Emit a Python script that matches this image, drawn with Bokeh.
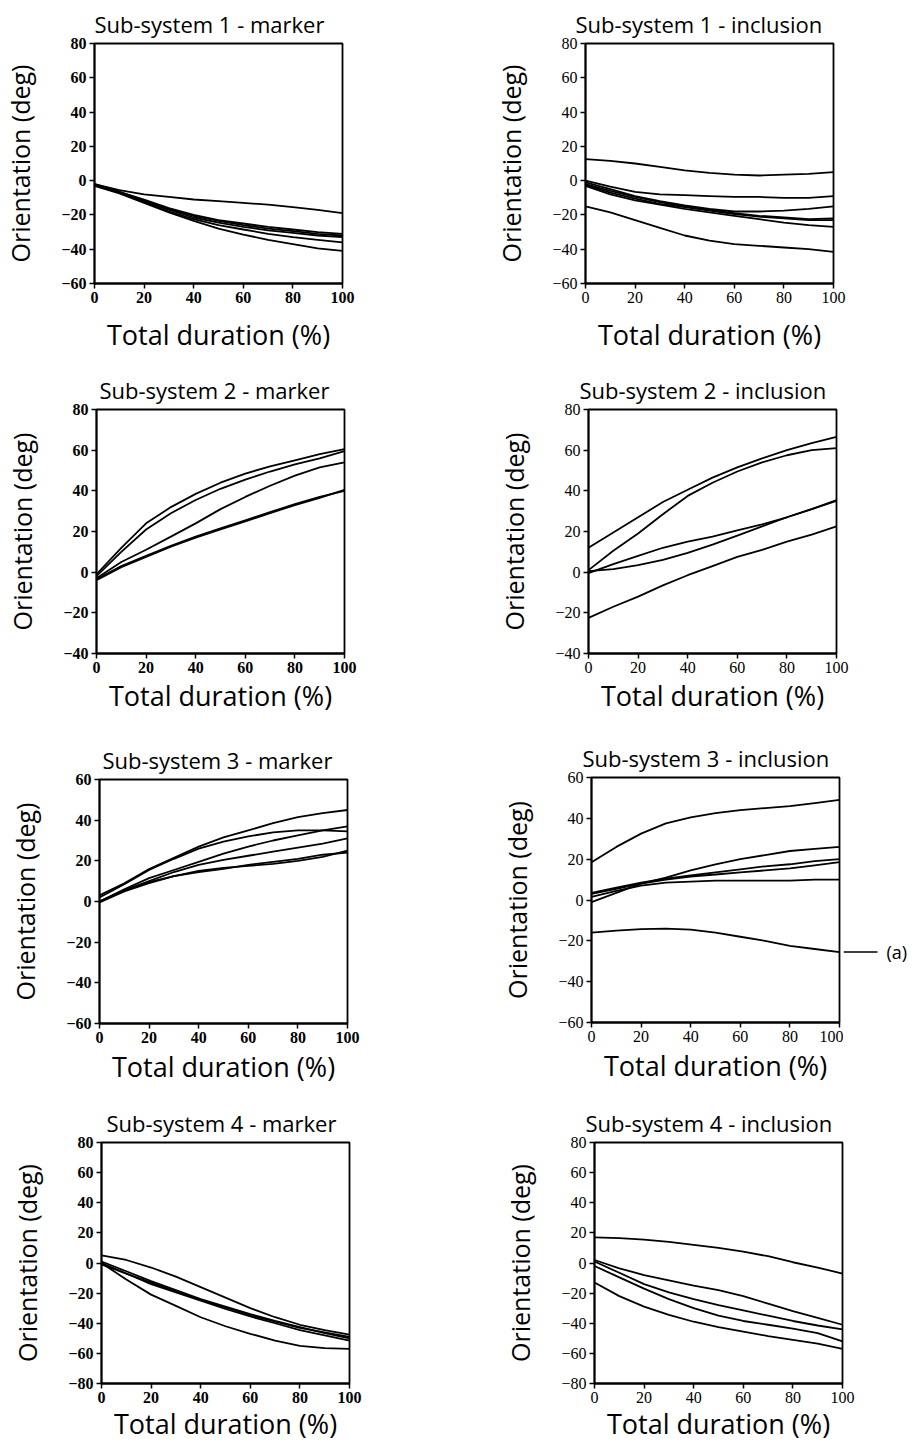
from bokeh.plotting import figure
from bokeh.models import Range1d, FixedTicker, Title
from bokeh.core.properties import value
from bokeh.layouts import column, row
from bokeh.embed import file_html
from bokeh.resources import INLINE

# ---------------- data ----------------
duration_pct = [0, 10, 20, 30, 40, 50, 60, 70, 80, 90, 100]
x_ticks = [0, 20, 40, 60, 80, 100]

ss1_marker = [
    [-2, -5.5, -8, -9.5, -11, -12, -13, -14, -15.5, -17, -19],
    [-2, -6.5, -11, -16, -20, -23, -25, -27, -28.5, -30, -31],
    [-2, -6.5, -11.5, -16.5, -20.5, -23.5, -26, -28, -29.5, -31, -32],
    [-2.5, -7, -12, -17, -21.5, -24.5, -27, -29, -30.5, -32, -33],
    [-2.5, -7, -12.5, -18, -22.5, -26, -28.5, -31, -33, -34.5, -36],
    [-3, -7.5, -13, -18.5, -23.5, -28, -31.5, -34.5, -37, -39.5, -41],
]
ss1_inclusion = [
    [12.5, 11.5, 10, 8, 6, 4.5, 3.5, 3, 3.5, 4, 5],
    [0, -3.5, -6.5, -8, -8.5, -9, -9.5, -9.5, -10, -10, -9],
    [-1, -5, -9, -12, -14.5, -16.5, -18, -18, -17.5, -16.5, -15],
    [-2, -6, -9.5, -12.5, -15, -17, -19, -20.5, -21.5, -22.5, -22],
    [-2.5, -7, -10.5, -13.5, -15.5, -17.5, -19.5, -21, -22, -23, -23],
    [-3, -8, -11.5, -14, -16.5, -18.5, -20.5, -22.5, -24.5, -26, -27],
    [-15, -18.5, -23, -27.5, -32, -35, -37, -38, -39, -40, -41.5],
]
ss2_marker = [
    [-1, 12, 24, 32, 38.5, 44, 48.5, 52, 55, 58, 60.5],
    [-2, 10, 21, 29, 35.5, 41, 45.5, 49.5, 53, 56, 59.5],
    [-3, 5, 11, 17.5, 24, 31, 37, 42.5, 47.5, 51.5, 54],
    [-3.5, 3, 8, 13, 17.5, 21.5, 25.5, 29.5, 33.5, 37, 40],
    [-4, 2.5, 7.5, 12.5, 17, 21, 25, 29, 33, 36.5, 40.5],
]
ss2_inclusion = [
    [12, 19.5, 27, 34.5, 40.5, 46.5, 51.5, 56, 60, 63.5, 66.5],
    [1, 10.5, 19, 28.5, 37.5, 44, 49.5, 54, 57.5, 60, 61],
    [-0.5, 4, 8, 12, 15, 17.5, 20.5, 23.5, 27, 31, 35.5],
    [0.5, 1.5, 3.5, 6, 9.5, 13.5, 18, 22.5, 27, 31, 35],
    [-22.5, -17, -12, -6.5, -1.5, 3, 7.5, 11, 15, 18.5, 22.5],
]
ss3_marker = [
    [3, 9, 16, 21.5, 27, 31.5, 35, 38.5, 41.5, 43.5, 45],
    [2, 8.5, 15.5, 21, 26, 29.5, 32, 34, 35, 35, 34.5],
    [0, 6, 11.5, 15.5, 19.5, 23.5, 27, 30, 32.5, 35, 37],
    [0, 5.5, 10, 14.5, 18, 20.5, 22.5, 24.5, 26.5, 28.5, 31],
    [-0.5, 5, 9, 12.5, 15, 16.5, 17.5, 18.5, 20, 22, 25],
    [0, 5.5, 9.5, 12.5, 14.5, 16, 18, 19.5, 21, 23, 24],
]
ss3_inclusion = [
    [18.5, 26, 32.5, 37.5, 40.5, 42.5, 44, 45, 46, 47.5, 49],
    [-1, 3.5, 8, 11, 14.5, 17.5, 20, 22, 24, 25, 26],
    [3.5, 6, 8.5, 10.5, 12, 13.5, 15, 16.5, 17.5, 19, 20],
    [3, 5.5, 8, 10, 11.5, 12.5, 13.5, 14.5, 15.5, 17, 18.5],
    [1.5, 4.5, 7, 8.5, 9, 9.5, 9.5, 9.5, 9.5, 10, 10],
    [-16, -15, -14.3, -14, -14.5, -16, -18, -20, -22.5, -24, -25.5],
]
ss4_marker = [
    [5, 2, -3, -9, -16, -23, -30, -36, -41, -44.5, -47.5],
    [1, -5.5, -12, -18, -24, -29, -34, -38.5, -42.5, -46.5, -50],
    [0, -7, -14, -19.5, -25, -30.5, -35.5, -40, -44.5, -48, -51.5],
    [-1, -7, -13, -19, -24.5, -29.5, -34.5, -39, -43, -46, -49],
    [0, -11, -21, -28.5, -36, -42, -47, -51.5, -55, -56.5, -57],
]
ss4_inclusion = [
    [17, 16.5, 15.5, 14, 12, 10, 7.5, 4.5, 0.5, -3, -7],
    [2, -3.5, -8, -11.5, -15, -18, -22, -27, -32, -36.5, -41],
    [1, -6.5, -14, -19.5, -24, -28, -31.5, -35, -38.5, -41.5, -44],
    [-2, -9.5, -17, -24, -30, -35, -38.5, -41, -43.5, -46.5, -52],
    [-13, -22, -29, -34.5, -39, -42.5, -45.5, -48.5, -51, -53.5, -57],
]

titles = [
    "Sub-system 1 - marker", "Sub-system 1 - inclusion",
    "Sub-system 2 - marker", "Sub-system 2 - inclusion",
    "Sub-system 3 - marker", "Sub-system 3 - inclusion",
    "Sub-system 4 - marker", "Sub-system 4 - inclusion",
]
curves = [ss1_marker, ss1_inclusion, ss2_marker, ss2_inclusion,
          ss3_marker, ss3_inclusion, ss4_marker, ss4_inclusion]
y_limits = [(-60, 80), (-60, 80), (-40, 80), (-40, 80),
            (-60, 60), (-60, 60), (-80, 80), (-80, 80)]
x_label = "Total duration (%)"
y_label = "Orientation (deg)"
annotation_text = "(a)"
annotated_panel = 5          # Sub-system 3 - inclusion
annotated_curve = 5          # the lowest curve
X_MAX = 100

# ---------------- layout geometry (page origin at 0,0) ----------------
row_tops = [0, 366, 736, 1098]
row_heights = [366, 370, 362, 346]
col_x = [0, 470]
col_w = [470, 444]
frame_w = 248
frame_top = [[43, 39], [409, 407], [779, 777], [1142, 1140]]
frame_h = [[245, 244], [245, 246], [244, 245], [243, 244]]
frame_left = [[94, 585], [96, 588], [99, 591], [101, 594]]
title_off = [[0, -10], [3, -9], [3, -9], [5, -9]]
xlab_standoff = [10, 1, 2, -1]
callout_w = 71
px_per_unit = frame_w / X_MAX
LW = 1.8

SANS = "Open Sans"
SERIF = "Liberation Serif"


def style_panel(p, c, y0, y1, r, i):
    p.title = Title(text=titles[i], align="left", offset=title_off[r][c],
                    text_font=SANS, text_font_size="22px",
                    text_font_style="normal", text_color="black",
                    standoff=9)
    p.outline_line_color = "black"
    p.outline_line_width = LW
    p.outline_line_alpha = 1.0
    p.xgrid.grid_line_color = None
    p.ygrid.grid_line_color = None
    p.background_fill_color = "white"
    p.border_fill_color = "white"
    p.xaxis.ticker = FixedTicker(ticks=x_ticks)
    p.yaxis.ticker = FixedTicker(ticks=list(range(y0, y1 + 1, 20)))
    for ax in (p.xaxis[0], p.yaxis[0]):
        ax.axis_line_color = "black"
        ax.axis_line_width = LW
        ax.major_tick_line_color = "black"
        ax.major_tick_line_width = 1.5
        ax.major_tick_out = 5
        ax.major_tick_in = 0
        ax.minor_tick_line_color = None
        ax.major_label_text_font = SERIF
        ax.major_label_text_font_size = "16px"
        ax.major_label_text_font_style = "bold" if c == 0 else "normal"
        ax.major_label_text_color = "black"
        ax.major_label_standoff = 3
        ax.axis_label_text_font = SANS
        ax.axis_label_text_font_style = "normal"
        ax.axis_label_text_color = "black"
    p.xaxis.axis_label = x_label
    p.xaxis.axis_label_text_font_size = "27px"
    p.xaxis.axis_label_standoff = xlab_standoff[r]
    p.yaxis.axis_label = y_label
    p.yaxis.axis_label_text_font_size = "25px"
    p.yaxis.axis_label_standoff = 21


rows = []
for r in range(4):
    figs = []
    for c in range(2):
        i = r * 2 + c
        y0, y1 = y_limits[i]
        H = row_heights[r]
        bt = frame_top[r][c] - row_tops[r]
        bl = frame_left[r][c] - col_x[c]
        bb = H - bt - frame_h[r][c]
        annotated = (i == annotated_panel)
        W = col_w[c] - callout_w if annotated else col_w[c]
        br = W - bl - frame_w
        p = figure(width=W, height=H, x_range=Range1d(0, X_MAX),
                   y_range=Range1d(y0, y1), output_backend="svg",
                   toolbar_location=None, tools="",
                   min_border_left=bl, min_border_right=br,
                   min_border_top=bt, min_border_bottom=bb)
        style_panel(p, c, y0, y1, r, i)
        for ys in curves[i]:
            p.line(duration_pct, ys, line_color="black", line_width=LW)
        if annotated:
            # callout strip to the right of the panel, same vertical scale
            x_start = X_MAX + br / px_per_unit
            q = figure(width=callout_w, height=H,
                       x_range=Range1d(x_start, x_start + callout_w / px_per_unit),
                       y_range=Range1d(y0, y1), output_backend="svg",
                       toolbar_location=None, tools="",
                       min_border_left=0, min_border_right=0,
                       min_border_top=bt, min_border_bottom=bb)
            q.axis.visible = False
            q.grid.grid_line_color = None
            q.outline_line_color = None
            q.background_fill_color = "white"
            q.border_fill_color = "white"
            ya = curves[i][annotated_curve][-1]
            q.line([x_start, x_start + 34 / px_per_unit], [ya, ya],
                   line_color="black", line_width=1.5)
            q.text(x=[x_start + 43 / px_per_unit], y=[ya],
                   text=[annotation_text],
                   text_baseline="middle", text_align="left",
                   text_font=value(SANS), text_font_size="18px",
                   text_color="black")
            figs.append(row(p, q))
        else:
            figs.append(p)
    rows.append(row(*figs))

layout = column(*rows)
open("out.html", "w").write(file_html(layout, INLINE))
